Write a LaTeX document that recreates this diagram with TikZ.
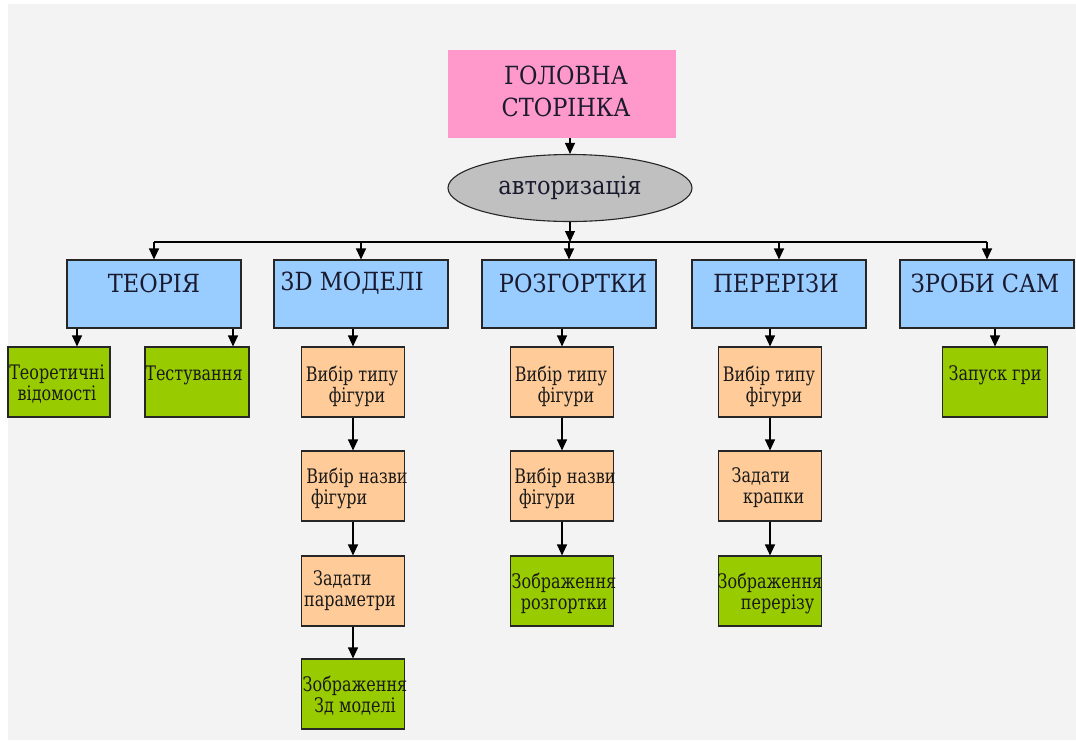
\documentclass[tikz,border=0pt]{standalone}
\usepackage{fontspec}
\setmainfont{DejaVu Serif}
\newfontfamily\bigserif{DejaVu Serif}[FakeStretch=0.9]
\newfontfamily\smallserif{DejaVu Serif}[FakeStretch=0.8]
\usetikzlibrary{shapes.geometric,arrows.meta}
\definecolor{bg}{HTML}{F3F3F3}
\definecolor{pinkc}{HTML}{FF99CC}
\definecolor{grayc}{HTML}{C0C0C0}
\definecolor{bluec}{HTML}{99CCFF}
\definecolor{orangec}{HTML}{FFCC99}
\definecolor{greenc}{HTML}{99CC00}
\definecolor{txt}{HTML}{1A1A2E}
\tikzset{
  box/.style={draw=black!85, line width=1.1pt, inner sep=0pt},
  topbox/.style={box, fill=bluec, minimum width=174pt, minimum height=68pt},
  subbox/.style={box, fill=orangec, minimum width=103pt, minimum height=70pt},
  leafbox/.style={box, fill=greenc, minimum width=103pt, minimum height=70pt},
  bigtxt/.style={font=\bigserif\fontsize{25}{32}\selectfont, text=txt, align=center, inner sep=0pt},
  smalltxt/.style={font=\smallserif\fontsize{20}{21}\selectfont, text=black!90, align=center, inner sep=0pt},
  arr/.style={line width=1.1pt, -{Triangle[length=11pt,width=10pt]}},
  bus/.style={line width=1.1pt}
}
\begin{document}
\begin{tikzpicture}[x=1pt,y=-1pt]
\useasboundingbox (0,0) rectangle (1076,740);
\fill[white] (0,0) rectangle (1076,740);
\fill[bg] (8,4) rectangle (1076,740);

% head
\node[fill=pinkc, minimum width=228pt, minimum height=88pt, inner sep=0pt] (home) at (562,94) {};
\node[bigtxt] at (566,91) {ГОЛОВНА\\СТОРІНКА};
\node[ellipse, draw=black!85, line width=1.1pt, fill=grayc, minimum width=244pt, minimum height=67pt, inner sep=0pt, bigtxt, text=txt] (auth) at (570,188) {авторизація};

% top level
\node[topbox] (t1) at (154,294) {};
\node[topbox] (t2) at (361,294) {};
\node[topbox] (t3) at (569,294) {};
\node[topbox] (t4) at (779,294) {};
\node[topbox] (t5) at (987,294) {};
\node[bigtxt] at (154,283) {ТЕОРІЯ};
\node[bigtxt] at (352,283) {3D МОДЕЛІ};
\node[bigtxt] at (573,283) {РОЗГОРТКИ};
\node[bigtxt] at (776,283) {ПЕРЕРІЗИ};
\node[bigtxt] at (985,283) {ЗРОБИ САМ};

% theory children
\node[leafbox, minimum width=102pt] (a1) at (59,382) {};
\node[smalltxt] at (57,384) {Теоретичні\\відомості};
\node[leafbox, minimum width=104pt] (a2) at (197,382) {};
\node[smalltxt] at (194,375) {Тестування};

% 3D column
\node[subbox] (b1) at (353,382) {};
\node[smalltxt] at (352,386) {Вибір типу\\\ \ фігури};
\node[subbox] (b2) at (353,486) {};
\node[smalltxt] at (357,488) {Вибір назви\\фігури\ \ \ \ \ \ \ \ };
\node[subbox] (b3) at (353,591) {};
\node[smalltxt] at (350,591) {Задати\ \ \ \ \\параметри};
\node[leafbox] (b4) at (353,694) {};
\node[smalltxt] at (355,696) {Зображення\\Зд моделі};

% development column
\node[subbox] (c1) at (562,382) {};
\node[smalltxt] at (561,386) {Вибір типу\\\ \ фігури};
\node[subbox] (c2) at (562,486) {};
\node[smalltxt] at (565,488) {Вибір назви\\фігури\ \ \ \ \ \ \ \ };
\node[leafbox] (c3) at (562,591) {};
\node[smalltxt] at (564,593) {Зображення\\розгортки};

% sections column
\node[subbox] (d1) at (770,382) {};
\node[smalltxt] at (769,386) {Вибір типу\\\ \ фігури};
\node[subbox] (d2) at (770,486) {};
\node[smalltxt] at (766,488) {Задати\ \ \ \\\ \ \ крапки};
\node[leafbox] (d3) at (770,591) {};
\node[smalltxt] at (770,593) {Зображення\\\ \ \ перерізу};

% do it yourself
\node[leafbox, minimum width=105pt] (e1) at (995,382) {};
\node[smalltxt] at (995,375) {Запуск гри};

% connectors
\coordinate (busL) at (154,242);
\coordinate (busR) at (987,242);
\draw[arr] (home.south -| auth.north) -- (auth.north);
\draw[arr] (auth.south) -- (auth.south |- busL);
\draw[bus] (busL) -- (busR);
\foreach \t in {t1,t2,t3,t4,t5}{
  \draw[arr] (\t.north |- busL) -- (\t.north);
}
\coordinate (ta) at (77,0);
\coordinate (tb) at (233,0);
\draw[arr] (t1.south -| ta) -- (ta |- a1.north);
\draw[arr] (t1.south -| tb) -- (tb |- a2.north);
\draw[arr] (b1.north |- t2.south) -- (b1.north);
\draw[arr] (b1) -- (b2);
\draw[arr] (b2) -- (b3);
\draw[arr] (b3) -- (b4);
\draw[arr] (c1.north |- t3.south) -- (c1.north);
\draw[arr] (c1) -- (c2);
\draw[arr] (c2) -- (c3);
\draw[arr] (d1.north |- t4.south) -- (d1.north);
\draw[arr] (d1) -- (d2);
\draw[arr] (d2) -- (d3);
\draw[arr] (e1.north |- t5.south) -- (e1.north);
\end{tikzpicture}
\end{document}
